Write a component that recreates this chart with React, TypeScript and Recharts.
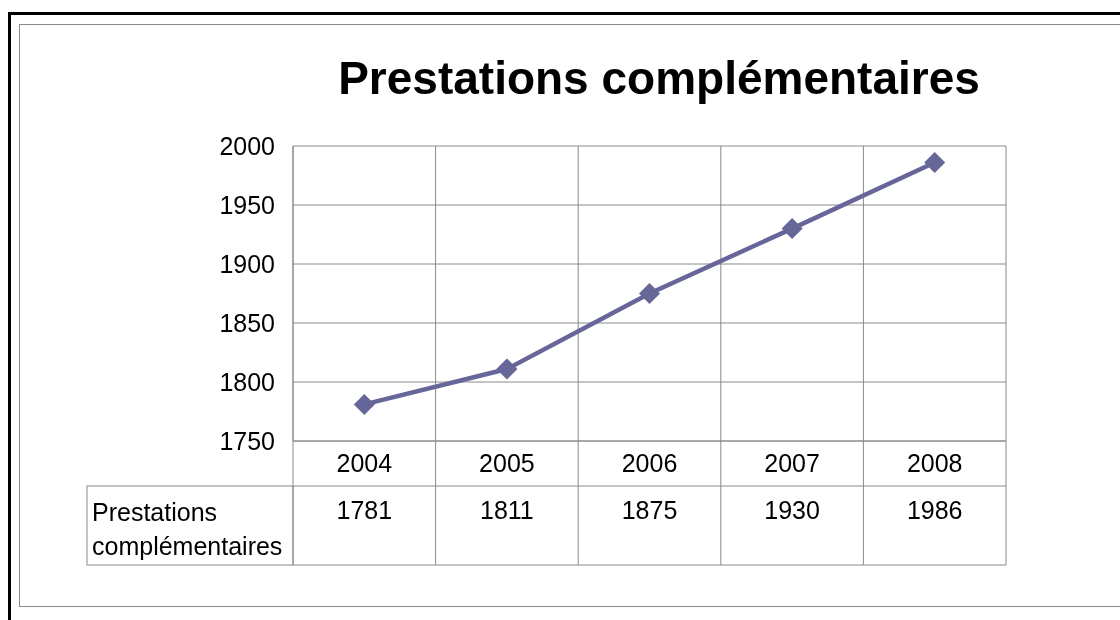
import React from 'react';
import { LineChart, Line, XAxis, YAxis, CartesianGrid } from 'recharts';

const years = ['2004', '2005', '2006', '2007', '2008'];
const values = [1781, 1811, 1875, 1930, 1986];
const seriesName = 'Prestations complémentaires';
const yTicks = [1750, 1800, 1850, 1900, 1950, 2000];
const xTicks = [0, 1, 2, 3, 4];
const cellEdges = [-0.5, 0.5, 1.5, 2.5, 3.5, 4.5];

const data = years.map((year, i) => ({ idx: i, year, value: values[i] }));

const FONT = '"Liberation Sans", Arial, sans-serif';
const GRID = '#8a8a8a';
const LINE = '#666699';

const CHART_W = 1120;
const CHART_H = 620;
const PLOT_LEFT = 293;
const PLOT_RIGHT = 1006;
const CELL_W = (PLOT_RIGHT - PLOT_LEFT) / years.length;
const TABLE_H = 124;
const ROW1_H = 45;
const LABEL_W = 206;

const Diamond = (props: any) => {
    const { cx, cy } = props;
    if (cx == null || cy == null) return null;
    const r = 10.5;
    return (
        <polygon
            points={`${cx},${cy - r} ${cx + r},${cy} ${cx},${cy + r} ${cx - r},${cy}`}
            fill={LINE}
        />
    );
};

// draws one column of the data table under the plot
const TableTick = (props: any) => {
    const { x, y, payload, index } = props;
    const i = payload.value as number;
    const left = x - CELL_W / 2;
    const right = x + CELL_W / 2;
    return (
        <g>
            {index === 0 && (
                <g>
                    <line x1={left} y1={y} x2={left} y2={y + TABLE_H} stroke={GRID} />
                    <rect
                        x={left - LABEL_W}
                        y={y + ROW1_H}
                        width={LABEL_W}
                        height={TABLE_H - ROW1_H}
                        fill="none"
                        stroke={GRID}
                    />
                    <text x={left - LABEL_W + 5} y={y + 80} fontSize={25} fontFamily={FONT} fill="#000">
                        Prestations
                    </text>
                    <text x={left - LABEL_W + 5} y={y + 114} fontSize={25} fontFamily={FONT} fill="#000">
                        complémentaires
                    </text>
                </g>
            )}
            <line x1={right} y1={y} x2={right} y2={y + TABLE_H} stroke={GRID} />
            <line x1={left} y1={y + ROW1_H} x2={right} y2={y + ROW1_H} stroke={GRID} />
            <line x1={left} y1={y + TABLE_H} x2={right} y2={y + TABLE_H} stroke={GRID} />
            <text x={x} y={y + 31} textAnchor="middle" fontSize={25} fontFamily={FONT} fill="#000">
                {years[i]}
            </text>
            <text x={x} y={y + 78} textAnchor="middle" fontSize={25} fontFamily={FONT} fill="#000">
                {values[i]}
            </text>
        </g>
    );
};

const App: React.FC = () => {
    return (
        <div>
            <div
                style={{
                    position: 'fixed',
                    left: 8,
                    top: 12,
                    width: 1200,
                    height: 700,
                    border: '3px solid #000',
                    boxSizing: 'border-box',
                }}
            />
            <div
                style={{
                    position: 'fixed',
                    left: 19,
                    top: 24,
                    width: 1200,
                    height: 583,
                    border: `1px solid ${GRID}`,
                    boxSizing: 'border-box',
                }}
            />
            <div
                style={{
                    position: 'fixed',
                    left: 0,
                    top: 0,
                    width: CHART_W,
                    height: CHART_H,
                    fontFamily: FONT,
                }}
            >
                <div
                    style={{
                        position: 'absolute',
                        left: 0,
                        top: 50,
                        width: 1318,
                        textAlign: 'center',
                        fontSize: 46,
                        fontWeight: 'bold',
                        lineHeight: '56px',
                        color: '#000',
                    }}
                >
                    {seriesName}
                </div>
                <LineChart
                    width={CHART_W}
                    height={CHART_H}
                    data={data}
                    margin={{ top: 146, right: CHART_W - PLOT_RIGHT, left: 0, bottom: 55 }}
                    style={{ position: 'absolute', left: 0, top: 0 }}
                >
                    <CartesianGrid xAxisId="grid" stroke={GRID} strokeWidth={1} />
                    <XAxis
                        xAxisId="grid"
                        dataKey="idx"
                        type="number"
                        domain={[-0.5, 4.5]}
                        ticks={cellEdges}
                        hide
                    />
                    <XAxis
                        dataKey="idx"
                        type="number"
                        domain={[-0.5, 4.5]}
                        ticks={xTicks}
                        height={TABLE_H}
                        axisLine={{ stroke: GRID }}
                        tickLine={false}
                        tickSize={0}
                        tickMargin={0}
                        tick={<TableTick />}
                        interval={0}
                    />
                    <YAxis
                        domain={[1750, 2000]}
                        ticks={yTicks}
                        width={PLOT_LEFT}
                        axisLine={{ stroke: GRID }}
                        tickLine={false}
                        tickSize={0}
                        tickMargin={18}
                        tick={{ fontSize: 25, fill: '#000', fontFamily: FONT }}
                        interval={0}
                    />
                    <Line
                        type="linear"
                        dataKey="value"
                        stroke={LINE}
                        strokeWidth={4.5}
                        dot={<Diamond />}
                        activeDot={false}
                        isAnimationActive={false}
                    />
                </LineChart>
            </div>
        </div>
    );
};

export default App;
